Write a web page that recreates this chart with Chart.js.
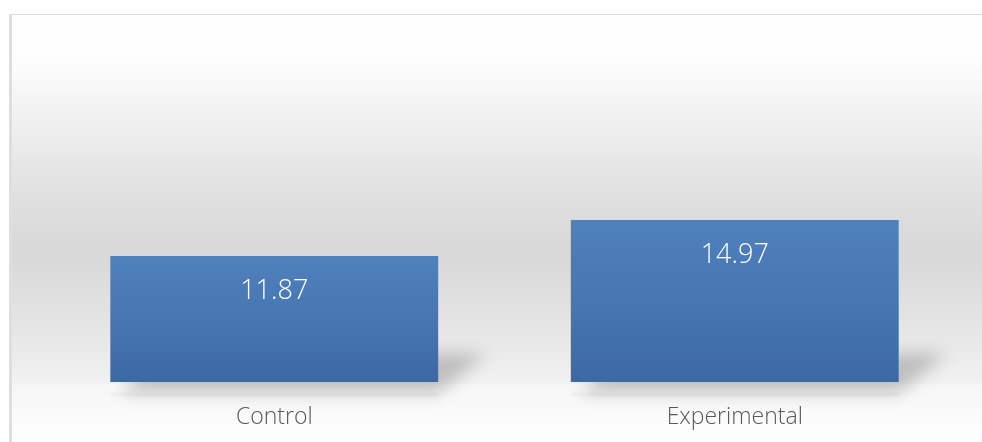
<!DOCTYPE html>
<html>
<head>
<meta charset="utf-8">
<script src="https://cdn.jsdelivr.net/npm/chart.js@4.4.1/dist/chart.umd.min.js"></script>
<style>
  html, body { margin: 0; padding: 0; background: #ffffff; width: 982px; height: 442px; overflow: hidden; }
  #bg {
    position: absolute; left: 9px; top: 14px; width: 990px; height: 440px;
    border-left: 3px solid #dedede; border-top: 1px solid #d9d9d9;
    background: linear-gradient(to bottom,
      #ffffff 0px, #fdfdfd 46px, #f4f4f4 86px, #e3e3e3 166px, #d9d9d9 226px,
      #d9d9d9 246px, #e4e4e4 306px, #f1f1f1 368px, #f6f6f6 370px, #fefefe 428px);
  }
  #c { position: absolute; left: 0; top: 0; }
</style>
</head>
<body>
<div id="bg"></div>
<canvas id="c" width="982" height="442"></canvas>
<script>
const categories = ['Control', 'Experimental'];
const values = [11.87, 14.97];

const barShadow = {
  id: 'barShadow',
  beforeDatasetsDraw(chart) {
    const ctx = chart.ctx;
    const meta = chart.getDatasetMeta(0);
    meta.data.forEach(el => {
      const left = el.x - el.width / 2, right = el.x + el.width / 2, base = el.base;
      ctx.save();
      ctx.filter = 'blur(8px)';
      ctx.fillStyle = 'rgba(0,0,0,0.2)';
      ctx.beginPath();
      ctx.moveTo(left + 10, base);
      ctx.lineTo(right, base);
      ctx.lineTo(right + 48, base - 40);
      ctx.lineTo(left + 48, base - 40);
      ctx.closePath();
      ctx.fill();
      ctx.restore();
      ctx.save();
      ctx.filter = 'blur(1px)';
      ctx.fillStyle = 'rgba(0,0,0,0.06)';
      ctx.fillRect(left, base, el.width + 1, 2);
      ctx.restore();
    });
  }
};

const valueLabels = {
  id: 'valueLabels',
  afterDatasetsDraw(chart) {
    const ctx = chart.ctx;
    const meta = chart.getDatasetMeta(0);
    ctx.save();
    ctx.font = "300 27px 'Open Sans'";
    ctx.fillStyle = '#ffffff';
    ctx.textAlign = 'center';
    ctx.textBaseline = 'alphabetic';
    meta.data.forEach((el, i) => {
      ctx.fillText(values[i].toFixed(2), el.x, el.y + 43);
    });
    ctx.restore();
  }
};

new Chart(document.getElementById('c'), {
  type: 'bar',
  data: {
    labels: categories,
    datasets: [{
      data: values,
      backgroundColor(context) {
        const chart = context.chart;
        const { ctx, chartArea, scales } = chart;
        if (!chartArea || !scales.y) return '#4a7bb7';
        const top = scales.y.getPixelForValue(context.raw);
        const bottom = scales.y.getPixelForValue(scales.y.min);
        const g = ctx.createLinearGradient(0, top, 0, bottom);
        g.addColorStop(0, '#4f81bd');
        g.addColorStop(0.45, '#4877b2');
        g.addColorStop(1, '#3c69a3');
        return g;
      },
      borderWidth: 0,
      barPercentage: 0.712,
      categoryPercentage: 1.0
    }]
  },
  options: {
    responsive: false,
    animation: false,
    devicePixelRatio: 1,
    layout: { padding: { top: 34, left: 44, right: 17, bottom: 0 } },
    plugins: { legend: { display: false }, tooltip: { enabled: false } },
    scales: {
      x: {
        grid: { display: false, drawTicks: false },
        border: { display: false },
        ticks: { color: '#595959', font: { family: "'Open Sans'", size: 23, weight: '300' }, padding: 22 },
        afterFit(scale) { scale.height = 60; }
      },
      y: {
        display: false,
        min: 1,
        max: 31
      }
    }
  },
  plugins: [barShadow, valueLabels]
});
</script>
</body>
</html>
